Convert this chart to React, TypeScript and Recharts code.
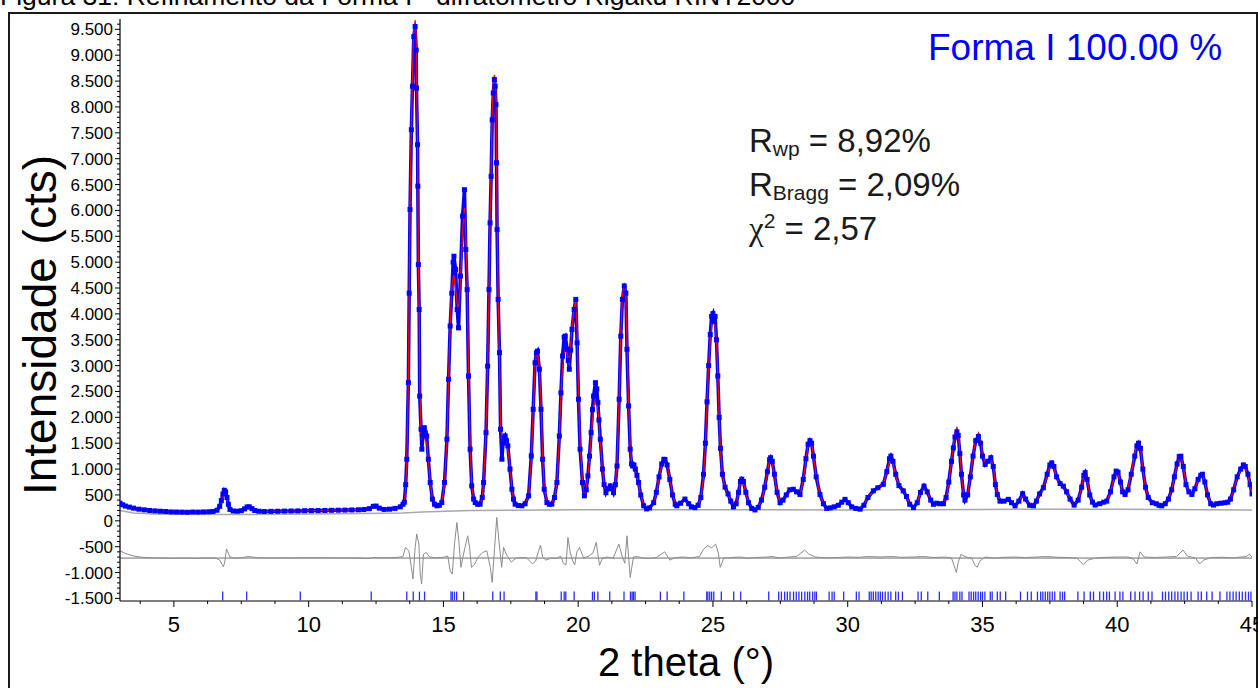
import { ComposedChart, Line, Scatter, XAxis, YAxis, ReferenceLine } from "recharts";

// [2theta, I obs, I calc]
const profile: [number, number, number][] = [
  [3.0, 340, 320], [3.1, 310, 300], [3.2, 285, 280], [3.35, 265, 262], [3.5, 245, 245], [3.7, 225, 228],
  [3.9, 212, 215], [4.1, 200, 203], [4.3, 192, 195], [4.5, 185, 188], [4.7, 180, 182], [4.9, 172, 178],
  [5.1, 170, 175], [5.3, 168, 172], [5.5, 165, 170], [5.7, 170, 170], [5.9, 168, 170], [6.1, 172, 172],
  [6.3, 175, 175], [6.45, 180, 180], [6.6, 205, 195], [6.7, 280, 250], [6.76, 390, 360], [6.82, 520, 470],
  [6.87, 590, 520], [6.92, 560, 505], [6.97, 450, 420], [7.02, 320, 300], [7.08, 220, 220], [7.2, 190, 195],
  [7.35, 185, 190], [7.5, 195, 195], [7.62, 230, 225], [7.72, 268, 255], [7.8, 270, 258], [7.9, 235, 230],
  [8.0, 200, 200], [8.15, 185, 188], [8.35, 180, 185], [8.6, 183, 185], [8.85, 185, 186], [9.1, 188, 188],
  [9.35, 190, 190], [9.6, 192, 193], [9.85, 195, 195], [10.1, 197, 197], [10.35, 198, 199], [10.6, 200, 200],
  [10.85, 203, 202], [11.1, 205, 205], [11.35, 207, 207], [11.6, 210, 210], [11.85, 213, 213], [12.05, 218, 218],
  [12.25, 235, 232], [12.4, 280, 275], [12.5, 285, 280], [12.62, 245, 245], [12.8, 220, 222], [13.0, 225, 225],
  [13.2, 240, 238], [13.4, 270, 262], [13.5, 320, 300], [13.55, 360, 340], [13.6, 700, 650], [13.64, 1190, 1150],
  [13.7, 2670, 2700], [13.73, 4400, 4500], [13.76, 6020, 6100], [13.81, 7560, 7700], [13.85, 8400, 8600],
  [13.9, 9360, 9500], [13.95, 9555, 9680], [13.99, 9100, 9400], [14.0, 8365, 8700], [14.04, 7270, 7300],
  [14.05, 6470, 6600], [14.07, 4955, 5100], [14.1, 4085, 4000], [14.12, 2410, 2700], [14.17, 1770, 1700],
  [14.2, 1385, 1600], [14.24, 1650, 1640], [14.29, 1800, 1620], [14.33, 1700, 1560], [14.38, 1640, 1500],
  [14.44, 1190, 1200], [14.51, 740, 760], [14.59, 420, 440], [14.67, 320, 330], [14.76, 290, 290],
  [14.85, 300, 300], [14.94, 353, 360], [15.04, 740, 700], [15.13, 1577, 1550], [15.19, 2735, 2700],
  [15.25, 3765, 3800], [15.31, 4400, 4500], [15.36, 5000, 4700], [15.39, 5115, 4750], [15.45, 4860, 4500],
  [15.51, 4085, 4200], [15.56, 3730, 4050], [15.63, 4730, 4600], [15.71, 5890, 5600], [15.78, 6400, 6050],
  [15.83, 5245, 5500], [15.88, 4470, 4600], [15.93, 2800, 3000], [15.99, 1385, 1500], [16.05, 675, 700],
  [16.12, 420, 430], [16.18, 353, 350], [16.27, 320, 320], [16.36, 322, 330], [16.44, 450, 460],
  [16.49, 740, 760], [16.58, 1705, 1750], [16.64, 2990, 3000], [16.69, 4470, 4400], [16.73, 5760, 5800],
  [16.77, 6660, 6800], [16.81, 7750, 7900], [16.85, 8270, 8450], [16.89, 8530, 8620], [16.92, 8400, 8560],
  [16.95, 8045, 8200], [16.97, 6920, 7100], [16.99, 5630, 5900], [17.03, 4280, 4400], [17.08, 3250, 3100],
  [17.12, 1770, 1900], [17.17, 1190, 1450], [17.21, 1500, 1520], [17.25, 1600, 1560], [17.29, 1640, 1540],
  [17.34, 1550, 1480], [17.39, 1450, 1380], [17.47, 1000, 1050], [17.54, 610, 640], [17.6, 420, 430],
  [17.66, 322, 330], [17.78, 295, 300], [17.91, 290, 295], [18.03, 330, 330], [18.16, 483, 470],
  [18.26, 1255, 1200], [18.33, 2155, 2100], [18.4, 3055, 3000], [18.45, 3250, 3230], [18.49, 3280, 3250],
  [18.56, 2930, 2950], [18.62, 2155, 2250], [18.68, 1190, 1250], [18.74, 610, 650], [18.84, 353, 360],
  [18.93, 320, 320], [19.02, 322, 330], [19.12, 450, 450], [19.21, 740, 720], [19.3, 1640, 1600],
  [19.36, 2475, 2450], [19.42, 3185, 3000], [19.48, 3550, 3200], [19.52, 3570, 3300], [19.59, 3315, 3250],
  [19.63, 3100, 3150], [19.67, 2930, 3000], [19.72, 3300, 3400], [19.77, 3700, 3750], [19.85, 4085, 4100],
  [19.91, 4280, 4300], [19.96, 3440, 3700], [20.01, 2350, 2600], [20.07, 1385, 1500], [20.16, 740, 760],
  [20.23, 483, 500], [20.3, 600, 620], [20.36, 870, 880], [20.42, 1250, 1200], [20.48, 1705, 1600],
  [20.53, 2150, 1950], [20.57, 2410, 2200], [20.64, 2670, 2350], [20.69, 2550, 2300], [20.73, 2285, 2150],
  [20.77, 1950, 1880], [20.82, 1577, 1500], [20.9, 1000, 1000], [20.96, 700, 720], [21.03, 545, 560],
  [21.1, 620, 610], [21.19, 675, 660], [21.25, 620, 630], [21.31, 545, 560], [21.38, 700, 700],
  [21.44, 1060, 1100], [21.52, 2350, 2400], [21.58, 3570, 3600], [21.64, 4280, 4350], [21.71, 4540, 4600],
  [21.77, 4400, 4350], [21.81, 3315, 3500], [21.87, 2220, 2300], [21.93, 1385, 1450], [21.98, 1100, 1150],
  [22.02, 1060, 1100], [22.07, 1080, 1050], [22.12, 1000, 980], [22.18, 880, 860], [22.24, 740, 720],
  [22.32, 500, 500], [22.43, 290, 300], [22.54, 230, 240], [22.65, 250, 250], [22.8, 350, 340],
  [22.9, 550, 520], [23.0, 850, 820], [23.1, 1100, 1080], [23.18, 1190, 1160], [23.22, 1185, 1170],
  [23.3, 1080, 1100], [23.4, 800, 820], [23.5, 500, 520], [23.6, 320, 330], [23.66, 290, 300],
  [23.8, 340, 330], [23.96, 420, 410], [24.1, 330, 330], [24.2, 270, 270], [24.33, 255, 255],
  [24.45, 300, 290], [24.55, 450, 440], [24.65, 900, 850], [24.72, 1500, 1450], [24.78, 2300, 2300],
  [24.84, 3000, 3000], [24.9, 3600, 3500], [24.95, 3950, 3780], [25.0, 4005, 3880], [25.04, 3850, 3850],
  [25.08, 3950, 3750], [25.13, 3500, 3450], [25.18, 2800, 2850], [25.23, 2000, 2050], [25.28, 1400, 1350],
  [25.35, 900, 880], [25.45, 650, 640], [25.56, 520, 520], [25.66, 380, 380], [25.76, 270, 280],
  [25.86, 330, 330], [25.95, 550, 530], [26.02, 760, 740], [26.07, 805, 780], [26.13, 760, 740],
  [26.22, 550, 540], [26.32, 350, 350], [26.44, 240, 250], [26.56, 210, 220], [26.68, 260, 260],
  [26.8, 400, 390], [26.92, 650, 640], [27.02, 950, 930], [27.1, 1180, 1180], [27.14, 1220, 1230],
  [27.2, 1150, 1120], [27.28, 900, 880], [27.38, 550, 550], [27.49, 350, 360], [27.6, 400, 400],
  [27.72, 500, 480], [27.85, 600, 580], [27.98, 610, 600], [28.1, 560, 540], [28.23, 510, 500],
  [28.35, 800, 780], [28.45, 1200, 1180], [28.53, 1480, 1450], [28.6, 1550, 1520], [28.66, 1500, 1480],
  [28.73, 1250, 1250], [28.83, 850, 860], [28.97, 510, 510], [29.1, 330, 330], [29.22, 240, 250],
  [29.35, 250, 250], [29.5, 270, 270], [29.65, 300, 300], [29.78, 360, 370], [29.9, 415, 410],
  [30.02, 350, 360], [30.15, 270, 270], [30.3, 240, 240], [30.46, 225, 230], [30.6, 300, 300],
  [30.75, 450, 450], [30.95, 580, 570], [31.12, 640, 650], [31.32, 705, 720], [31.45, 950, 930],
  [31.55, 1200, 1150], [31.6, 1250, 1200], [31.68, 1150, 1120], [31.78, 900, 880], [31.9, 680, 680],
  [32.06, 580, 570], [32.18, 470, 460], [32.3, 320, 320], [32.44, 255, 260], [32.58, 350, 350],
  [32.7, 550, 540], [32.83, 670, 640], [32.95, 560, 560], [33.08, 400, 400], [33.18, 320, 330],
  [33.3, 340, 340], [33.42, 330, 340], [33.55, 330, 340], [33.65, 450, 430], [33.75, 750, 720],
  [33.85, 1150, 1150], [33.92, 1410, 1450], [33.98, 1620, 1700], [34.05, 1720, 1800], [34.1, 1650, 1720],
  [34.16, 1300, 1350], [34.22, 900, 900], [34.3, 500, 520], [34.35, 400, 420], [34.45, 500, 500],
  [34.55, 850, 850], [34.65, 1250, 1250], [34.75, 1550, 1580], [34.85, 1630, 1700], [34.93, 1500, 1550],
  [35.0, 1250, 1280], [35.1, 1090, 1120], [35.2, 1150, 1160], [35.31, 1220, 1200], [35.4, 1050, 1050],
  [35.48, 700, 700], [35.55, 510, 510], [35.65, 380, 390], [35.8, 380, 380], [35.96, 415, 400],
  [36.08, 350, 340], [36.21, 290, 300], [36.35, 380, 370], [36.49, 525, 510], [36.6, 420, 420],
  [36.75, 300, 300], [36.89, 290, 290], [37.0, 380, 380], [37.12, 520, 500], [37.26, 640, 620],
  [37.4, 900, 880], [37.5, 1080, 1060], [37.57, 1120, 1090], [37.65, 1050, 1020], [37.75, 850, 840],
  [37.88, 720, 700], [38.0, 670, 650], [38.12, 560, 550], [38.25, 420, 420], [38.4, 305, 310],
  [38.55, 400, 400], [38.68, 650, 640], [38.76, 880, 900], [38.81, 930, 950], [38.88, 800, 820],
  [38.98, 500, 510], [39.08, 360, 360], [39.18, 305, 310], [39.35, 330, 330], [39.5, 360, 360],
  [39.61, 380, 380], [39.75, 560, 550], [39.88, 850, 830], [39.96, 960, 920], [40.03, 940, 910],
  [40.12, 750, 740], [40.2, 560, 560], [40.29, 510, 510], [40.4, 600, 620], [40.52, 900, 920],
  [40.65, 1250, 1300], [40.73, 1450, 1480], [40.79, 1500, 1530], [40.86, 1400, 1420], [40.95, 1000, 1000],
  [41.05, 650, 650], [41.15, 450, 450], [41.3, 350, 350], [41.45, 330, 330], [41.55, 300, 300],
  [41.65, 290, 290], [41.78, 330, 330], [41.9, 420, 420], [42.02, 600, 600], [42.12, 850, 830],
  [42.22, 1100, 1080], [42.3, 1240, 1200], [42.36, 1250, 1220], [42.45, 1050, 1050], [42.55, 700, 700],
  [42.66, 560, 560], [42.77, 510, 510], [42.88, 620, 620], [43.0, 800, 800], [43.1, 880, 880],
  [43.16, 900, 890], [43.25, 750, 750], [43.35, 500, 500], [43.47, 330, 340], [43.57, 305, 315],
  [43.7, 330, 330], [43.85, 340, 340], [44.0, 350, 350], [44.1, 360, 360], [44.2, 420, 420],
  [44.32, 600, 600], [44.45, 850, 830], [44.58, 1000, 980], [44.68, 1080, 1060], [44.75, 1050, 1030],
  [44.85, 900, 880], [44.93, 700, 700], [45.0, 520, 520],
];

// [2theta, background]
const background: [number, number][] = [
  [3.0, 200], [3.5, 150], [4.5, 125], [7.0, 120], [10.0, 130], [12.0, 140], [13.5, 150], [14.2, 170],
  [16.0, 200], [20.0, 215], [25.0, 215], [30.0, 210], [35.0, 220], [40.0, 225], [45.0, 210],
];

// [2theta, Iobs - Icalc shifted]
const difference: [number, number][] = [
  [3.0, -580], [3.15, -620], [3.3, -650], [3.5, -680], [3.75, -700], [4.0, -712], [4.3, -715], [4.6, -720],
  [5.0, -725], [5.4, -720], [5.8, -725], [6.2, -718], [6.55, -722], [6.7, -760], [6.78, -840], [6.84, -890],
  [6.9, -760], [6.95, -545], [7.0, -600], [7.08, -700], [7.25, -720], [7.5, -715], [7.65, -700], [7.78, -690],
  [7.9, -700], [8.1, -712], [8.5, -718], [9.0, -715], [9.5, -716], [10.0, -712], [10.5, -714], [11.0, -716],
  [11.5, -718], [12.0, -722], [12.2, -730], [12.4, -710], [12.6, -715], [13.0, -712], [13.3, -708],
  [13.5, -690], [13.59, -515], [13.65, -540], [13.72, -590], [13.81, -900], [13.87, -1125], [13.95, -515],
  [14.01, -257], [14.09, -450], [14.14, -1030], [14.19, -1222], [14.26, -643], [14.36, -612], [14.49, -700],
  [14.7, -715], [15.0, -705], [15.16, -680], [15.25, -965], [15.33, -1030], [15.41, -450], [15.5, -33],
  [15.57, -386], [15.65, -900], [15.72, -708], [15.8, -515], [15.9, -290], [15.97, -515], [16.04, -900],
  [16.16, -836], [16.28, -708], [16.46, -610], [16.61, -580], [16.74, -900], [16.81, -1190], [16.9, -515],
  [16.98, 65], [17.06, -386], [17.16, -900], [17.23, -515], [17.33, -643], [17.52, -800], [17.7, -720],
  [18.07, -710], [18.3, -830], [18.42, -780], [18.52, -600], [18.6, -470], [18.68, -700], [18.8, -760],
  [19.0, -720], [19.2, -730], [19.35, -680], [19.45, -820], [19.55, -850], [19.62, -322], [19.7, -600],
  [19.8, -780], [19.87, -850], [19.95, -600], [20.05, -515], [20.2, -720], [20.4, -680], [20.55, -620],
  [20.67, -415], [20.79, -860], [20.9, -720], [21.1, -700], [21.3, -720], [21.51, -450], [21.64, -700],
  [21.73, -820], [21.81, -290], [21.93, -1095], [22.05, -700], [22.2, -690], [22.4, -720], [22.6, -730],
  [22.9, -710], [23.21, -600], [23.4, -760], [23.6, -710], [23.9, -700], [24.2, -715], [24.5, -690],
  [24.65, -550], [24.8, -480], [24.95, -520], [25.1, -450], [25.2, -620], [25.27, -900], [25.4, -720],
  [25.7, -710], [26.0, -700], [26.3, -725], [26.6, -710], [27.0, -700], [27.2, -690], [27.5, -720],
  [27.8, -700], [28.1, -690], [28.4, -565], [28.55, -640], [28.8, -700], [29.2, -715], [29.6, -710],
  [30.0, -700], [30.4, -705], [30.8, -690], [31.2, -700], [31.6, -690], [32.0, -705], [32.4, -700],
  [32.8, -690], [33.2, -710], [33.6, -700], [33.85, -720], [33.95, -870], [34.03, -1000], [34.1, -800],
  [34.2, -650], [34.4, -700], [34.6, -720], [34.71, -850], [34.8, -900], [34.9, -780], [35.1, -700],
  [35.4, -720], [35.8, -705], [36.2, -700], [36.6, -710], [37.0, -700], [37.4, -690], [37.8, -705],
  [38.2, -710], [38.5, -720], [38.75, -850], [38.9, -760], [39.2, -720], [39.6, -705], [40.0, -700],
  [40.4, -700], [40.6, -740], [40.73, -835], [40.85, -600], [41.0, -700], [41.4, -710], [41.8, -700],
  [42.2, -690], [42.44, -565], [42.6, -680], [42.9, -720], [43.06, -835], [43.2, -760], [43.5, -710],
  [43.9, -705], [44.3, -715], [44.6, -700], [44.8, -690], [44.9, -640], [45.0, -700],
];

// Bragg reflection positions (2theta)
const braggPositions = [
  6.81, 7.7, 9.69, 12.32, 13.64, 13.88, 14.11, 14.3, 15.28, 15.33, 15.41, 15.49, 15.75, 16.83, 17.11, 17.25,
  18.43, 18.47, 19.37, 19.48, 19.54, 19.85, 20.53, 20.6, 20.73, 21.17, 21.7, 21.94, 22.0, 22.05, 22.11,
  23.05, 23.3, 23.92, 24.77, 24.81, 24.88, 24.95, 25.03, 25.31, 25.77, 26.03, 27.07, 27.44, 27.54, 27.66,
  27.76, 27.86, 27.99, 28.09, 28.19, 28.29, 28.41, 28.51, 28.59, 28.7, 28.78, 28.84, 29.31, 29.42, 29.5,
  29.85, 30.32, 30.42, 30.8, 30.87, 30.95, 31.04, 31.13, 31.21, 31.29, 31.39, 31.5, 31.6, 31.78, 31.88,
  32.03, 32.61, 32.73, 32.97, 33.4, 33.91, 33.98, 34.05, 34.16, 34.24, 34.5, 34.58, 34.67, 34.75, 34.84,
  34.93, 35.0, 35.09, 35.29, 35.36, 35.55, 35.66, 35.86, 36.41, 36.67, 36.81, 37.04, 37.16, 37.24, 37.33,
  37.42, 37.5, 37.59, 37.68, 37.88, 37.97, 38.05, 38.54, 38.77, 39.0, 39.12, 39.35, 39.49, 39.61, 39.71,
  39.92, 40.1, 40.21, 40.5, 40.66, 40.83, 40.96, 41.15, 41.29, 41.68, 41.79, 41.91, 42.02, 42.14, 42.25,
  42.37, 42.48, 42.6, 42.74, 43.0, 43.12, 43.32, 43.52, 43.81, 44.07, 44.18, 44.3, 44.41, 44.53, 44.64,
  44.76, 44.87, 44.96,
];
const braggLevel = -1455;

const xTicks = Array.from({ length: 34 }, (_, i) => 3.75 + i * 1.25);
const yTicks = Array.from({ length: 112 }, (_, i) => -1500 + i * 100);

const obsData = profile.map(([x, obs]) => ({ x, obs }));
const calcData = profile.map(([x, , calc]) => ({ x, calc }));
const bgData = background.map(([x, bg]) => ({ x, bg }));
const diffData = difference.map(([x, diff]) => ({ x, diff }));
const braggData = braggPositions.map((x) => ({ x, y: braggLevel }));

const FONT = "'Liberation Sans', Arial, sans-serif";

function fmt(v: number) {
  const s = String(Math.abs(v));
  const t = s.length > 3 ? s.slice(0, -3) + "." + s.slice(-3) : s;
  return (v < 0 ? "-" : "") + t;
}

function XTick(props: any) {
  const { x, y, payload } = props;
  const v = payload.value;
  const major = Math.abs(v / 5 - Math.round(v / 5)) < 1e-6;
  return (
    <g>
      <line x1={x} x2={x} y1={y} y2={y + (major ? 6 : 3)} stroke="#000" strokeWidth={1} />
      {major && (
        <text x={x} y={y + 31} textAnchor="middle" fontSize={22} fontFamily={FONT} fill="#000">
          {v}
        </text>
      )}
    </g>
  );
}

function YTick(props: any) {
  const { x, y, payload } = props;
  const v = payload.value;
  const major = v % 500 === 0;
  return (
    <g>
      <line x1={x - (major ? 5 : 3)} x2={x} y1={y} y2={y} stroke="#000" strokeWidth={1} />
      {major && (
        <text x={x - 7} y={y + 6} textAnchor="end" fontSize={17} fontFamily={FONT} fill="#000">
          {fmt(v)}
        </text>
      )}
    </g>
  );
}

function ObsDot(props: any) {
  const { cx, cy, index } = props;
  if (cx == null || cy == null) return <g key={index} />;
  return <rect key={index} x={cx - 2.5} y={cy - 2.5} width={5} height={5} fill="#0000ff" />;
}

function BraggTick(props: any) {
  const { cx, cy } = props;
  return <line x1={cx} x2={cx} y1={cy - 4.5} y2={cy + 4.5} stroke="#2b2bff" strokeWidth={1.3} />;
}

export default function App() {
  return (
    <div
      style={{
        position: "absolute",
        left: 0,
        top: 0,
        width: 1258,
        height: 688,
        overflow: "hidden",
        background: "#fff",
        fontFamily: FONT,
      }}
    >
      <div
        style={{
          position: "absolute",
          left: 0,
          top: -17,
          fontSize: 26.5,
          lineHeight: "26px",
          whiteSpace: "nowrap",
          color: "#000",
        }}
      >
        Figura 31: Refinamento da Forma I - difratômetro Rigaku RINT2000
      </div>
      <div
        style={{
          position: "absolute",
          left: 8,
          top: 12,
          width: 1246,
          height: 700,
          border: "2px solid #1a1a1a",
        }}
      />
      <div style={{ position: "absolute", left: 0, top: 0 }}>
        <ComposedChart width={1258} height={688} margin={{ top: 19, right: 6, bottom: 0, left: 0 }}>
          <XAxis
            type="number"
            dataKey="x"
            domain={[3, 45]}
            allowDataOverflow
            ticks={xTicks}
            interval={0}
            tick={<XTick />}
            tickLine={false}
            tickSize={0}
            tickMargin={0}
            height={87}
            axisLine={{ stroke: "#000", strokeWidth: 1.2 }}
          />
          <YAxis
            type="number"
            domain={[-1550, 9700]}
            allowDataOverflow
            ticks={yTicks}
            interval={0}
            tick={<YTick />}
            tickLine={false}
            tickSize={0}
            tickMargin={0}
            width={120}
            axisLine={{ stroke: "#000", strokeWidth: 1.2 }}
          />
          <ReferenceLine y={-720} stroke="#6e6e6e" strokeWidth={1} ifOverflow="hidden" />
          <Line
            data={bgData}
            dataKey="bg"
            stroke="#a8a8a8"
            strokeWidth={1.5}
            dot={false}
            isAnimationActive={false}
          />
          <Line
            data={diffData}
            dataKey="diff"
            stroke="#8c8c8c"
            strokeWidth={1}
            dot={false}
            isAnimationActive={false}
          />
          <Scatter data={braggData} dataKey="y" shape={<BraggTick />} isAnimationActive={false} />
          <Line
            data={obsData}
            dataKey="obs"
            stroke="#0000ff"
            strokeWidth={3.5}
            dot={ObsDot}
            isAnimationActive={false}
          />
          <Line
            data={calcData}
            dataKey="calc"
            stroke="#ff0000"
            strokeWidth={1.2}
            dot={false}
            isAnimationActive={false}
          />
        </ComposedChart>
      </div>
      <div
        style={{
          position: "absolute",
          left: 40,
          top: 325,
          transform: "translate(-50%, -50%) rotate(-90deg)",
          fontSize: 46,
          lineHeight: "46px",
          whiteSpace: "nowrap",
          color: "#000",
        }}
      >
        Intensidade (cts)
      </div>
      <div
        style={{
          position: "absolute",
          left: 686,
          top: 642,
          transform: "translateX(-50%)",
          fontSize: 40,
          lineHeight: "40px",
          whiteSpace: "nowrap",
          color: "#000",
        }}
      >
        2 theta (°)
      </div>
      <div
        style={{
          position: "absolute",
          left: 928,
          top: 29,
          fontSize: 37,
          lineHeight: "37px",
          whiteSpace: "nowrap",
          color: "#0000ff",
        }}
      >
        Forma I 100.00 %
      </div>
      <div
        style={{
          position: "absolute",
          left: 749,
          top: 121,
          fontSize: 33,
          lineHeight: "40px",
          whiteSpace: "nowrap",
          color: "#1a1a1a",
        }}
      >
        <div>
          R<span style={{ fontSize: 21, position: "relative", top: 4 }}>wp</span> = 8,92%
        </div>
        <div>
          R<span style={{ fontSize: 21, position: "relative", top: 4 }}>Bragg</span> = 2,09%
        </div>
        <div>
          <span style={{ fontFamily: "'Liberation Serif', serif" }}>χ</span>
          <span style={{ fontSize: 21, position: "relative", top: -12 }}>2</span> = 2,57
        </div>
      </div>
    </div>
  );
}
